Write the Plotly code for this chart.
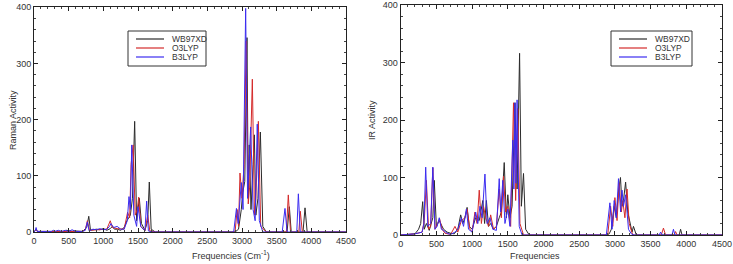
import plotly.graph_objects as go

# ---------------- Raman spectra (left) ----------------
raman_wb97xd_x = [0,30,50,200,280,300,400,450,470,550,570,700,760,790,815,850,900,950,1000,1050,1100,1130,1160,1200,1250,1300,1340,1390,1420,1452,1480,1519,1550,1600,1640,1663,1690,1750,2900,2950,2990,3010,3040,3072,3090,3105,3130,3160,3178,3200,3230,3265,3300,3350,3600,3650,3683,3710,3880,3909,3940,4500]
raman_wb97xd_y = [0,5,1,1,2,1,2,1,3,1,2,1,8,28,3,4,5,4,6,3,6,10,5,5,3,8,20,30,60,197,20,60,15,3,20,89,5,0,0,5,40,70,90,346,60,155,40,120,173,30,60,178,10,0,0,0,45,0,0,43,0,0]

raman_o3lyp_x = [0,30,50,300,350,450,500,700,740,770,800,900,1000,1050,1100,1130,1200,1300,1350,1380,1400,1430,1460,1490,1510,1540,1600,1640,1670,1750,2900,2930,2950,2971,3000,3030,3060,3090,3110,3149,3180,3200,3236,3270,3350,3600,3640,3668,3700,3820,3841,3870,4500]
raman_o3lyp_y = [0,4,1,1,2,1,2,1,4,20,3,4,5,5,20,8,6,5,35,25,120,155,30,40,62,10,2,30,2,0,0,40,10,105,60,120,340,50,80,272,30,60,197,10,0,0,0,66,0,0,37,0,0]

raman_b3lyp_x = [0,20,30,45,250,280,300,350,400,450,500,550,600,700,740,770,795,850,900,950,1000,1050,1090,1110,1150,1200,1250,1300,1345,1370,1390,1410,1440,1480,1500,1540,1600,1625,1650,1700,2880,2920,2945,2990,3015,3053,3080,3100,3125,3160,3190,3220,3250,3300,3580,3620,3650,3790,3813,3840,4500]
raman_b3lyp_y = [0,3,8,1,1,3,1,3,1,3,1,4,1,1,3,18,2,5,4,6,4,5,10,15,8,10,5,5,20,63,40,155,30,10,45,10,2,55,2,0,0,42,15,88,40,398,60,110,187,40,20,192,20,0,0,42,0,0,68,0,0]

# ---------------- IR spectra (right) ----------------
ir_wb97xd_x = [0,200,250,280,308,330,360,400,450,470,500,540,600,650,700,750,800,840,870,900,930,960,1000,1050,1100,1150,1175,1200,1230,1260,1300,1340,1380,1410,1450,1480,1500,1530,1560,1600,1630,1665,1690,1720,1750,1800,2880,2920,2950,2990,3020,3050,3078,3100,3120,3150,3180,3210,3240,3260,3300,3900,3920,3940,4500]
ir_wb97xd_y = [0,2,10,20,58,10,20,8,30,95,15,25,10,5,3,2,10,35,20,30,48,15,10,30,25,60,20,60,15,20,10,15,30,40,126,30,70,30,50,230,80,316,50,107,10,0,0,2,10,50,30,75,100,50,60,92,40,20,5,15,0,0,10,0,0]

ir_o3lyp_x = [0,200,300,330,360,390,420,450,480,520,545,580,620,700,760,800,850,900,930,970,1000,1040,1070,1100,1130,1160,1190,1230,1260,1300,1340,1380,1410,1440,1470,1500,1540,1580,1610,1640,1670,1720,2900,2940,2970,3000,3030,3060,3090,3110,3140,3170,3200,3250,3650,3680,3710,3830,3850,3870,4500]
ir_o3lyp_y = [0,2,5,25,95,10,15,117,10,20,28,10,3,1,15,5,25,30,45,10,5,40,20,78,20,50,30,15,35,10,15,80,30,102,40,50,15,230,60,220,20,0,0,50,15,65,25,90,40,60,30,80,20,0,0,12,0,0,6,0,0]

ir_b3lyp_x = [0,200,300,325,350,380,420,450,480,510,540,570,600,650,700,760,800,850,880,920,950,1000,1050,1080,1110,1140,1180,1210,1250,1290,1340,1380,1400,1430,1460,1500,1530,1570,1585,1600,1615,1630,1660,1700,2880,2930,2960,2990,3020,3050,3080,3100,3120,3150,3190,3230,3270,3620,3640,3660,3800,3820,3840,4500]
ir_b3lyp_y = [0,2,5,20,118,15,20,118,10,15,30,10,8,3,1,5,10,30,15,45,10,5,40,20,50,30,106,20,30,10,8,98,40,95,20,45,15,165,80,230,90,235,15,0,0,56,10,60,30,98,40,78,50,70,10,2,0,0,5,0,0,10,0,0]

series_names = ["WB97XD", "O3LYP", "B3LYP"]
colors = ["#2b2b2b", "#d42a2a", "#3b2cf0"]

x_ticks = [0, 500, 1000, 1500, 2000, 2500, 3000, 3500, 4000, 4500]
y_ticks = [0, 100, 200, 300, 400]

W, H = 733, 264
FONT = "Liberation Sans, Arial, sans-serif"
TXT = "#333"

fig = go.Figure()

raman = [(raman_wb97xd_x, raman_wb97xd_y), (raman_o3lyp_x, raman_o3lyp_y), (raman_b3lyp_x, raman_b3lyp_y)]
ir = [(ir_wb97xd_x, ir_wb97xd_y), (ir_o3lyp_x, ir_o3lyp_y), (ir_b3lyp_x, ir_b3lyp_y)]

for (xs, ys), name, c in zip(raman, series_names, colors):
    fig.add_trace(go.Scatter(x=xs, y=ys, mode="lines", name=name,
                             line=dict(color=c, width=1), xaxis="x", yaxis="y"))
for (xs, ys), name, c in zip(ir, series_names, colors):
    fig.add_trace(go.Scatter(x=xs, y=ys, mode="lines", name=name,
                             line=dict(color=c, width=1), xaxis="x2", yaxis="y2"))

def xax(domain, anchor):
    return dict(domain=domain, anchor=anchor, range=[0, 4500], tickvals=x_ticks,
                showgrid=False, zeroline=False, showline=True, linecolor="#222",
                linewidth=1, mirror="allticks", ticks="inside", ticklen=4,
                tickcolor="#222", tickfont=dict(size=9, color=TXT, family=FONT),
                minor=dict(ticks="inside", ticklen=2, dtick=100, tickcolor="#444"),
                automargin=False, fixedrange=True)

def yax(domain, anchor):
    return dict(domain=domain, anchor=anchor, range=[0, 400], tickvals=y_ticks,
                showgrid=False, zeroline=False, showline=True, linecolor="#222",
                linewidth=1, mirror="allticks", ticks="inside", ticklen=4,
                tickcolor="#222", tickfont=dict(size=9, color=TXT, family=FONT),
                minor=dict(ticks="inside", ticklen=2, dtick=20, tickcolor="#444"),
                automargin=False, fixedrange=True)

def px_x(v):
    return v / W

def px_y(v):
    return 1 - v / H

shapes = []
annotations = []

# Hand-drawn legends (box, line samples, labels), positioned in pixels
for (bx0, bx1, lx0, lx1, tx) in [(128, 206, 136, 164, 170), (611, 692, 619, 647, 653)]:
    shapes.append(dict(type="rect", xref="paper", yref="paper",
                       x0=px_x(bx0), x1=px_x(bx1), y0=px_y(66), y1=px_y(31),
                       line=dict(color="#333", width=1), fillcolor="white", layer="above"))
    for row_y, name, c in zip([39, 48, 57], series_names, colors):
        shapes.append(dict(type="line", xref="paper", yref="paper",
                           x0=px_x(lx0), x1=px_x(lx1), y0=px_y(row_y), y1=px_y(row_y),
                           line=dict(color=c, width=1.2), layer="above"))
        annotations.append(dict(text=name, x=px_x(tx), y=px_y(row_y), xref="paper", yref="paper",
                                xanchor="left", yanchor="middle", showarrow=False,
                                font=dict(size=8.5, color=TXT, family=FONT)))

annotations += [
    dict(text="Raman Activity", x=px_x(6), y=px_y(120), xref="paper", yref="paper",
         textangle=-90, showarrow=False, font=dict(size=9, color=TXT, family=FONT)),
    dict(text="Frequencies (Cm<sup>-1</sup>)", x=px_x(190), y=px_y(263), xref="paper", yref="paper",
         yanchor="bottom", showarrow=False, font=dict(size=9, color=TXT, family=FONT)),
    dict(text="IR Activity", x=px_x(372), y=px_y(120), xref="paper", yref="paper",
         textangle=-90, showarrow=False, font=dict(size=9, color=TXT, family=FONT)),
    dict(text="Frequencies", x=px_x(562), y=px_y(263), xref="paper", yref="paper",
         yanchor="bottom", showarrow=False, font=dict(size=9, color=TXT, family=FONT)),
]

fig.update_layout(
    width=W, height=H,
    margin=dict(l=0, r=0, t=0, b=0),
    paper_bgcolor="white", plot_bgcolor="white",
    xaxis=xax([34 / W, 346 / W], "y"),
    yaxis=yax([(H - 232) / H, (H - 7.3) / H], "x"),
    xaxis2=xax([400.7 / W, 722 / W], "y2"),
    yaxis2=yax([(H - 235) / H, (H - 5) / H], "x2"),
    showlegend=False,
    shapes=shapes,
    annotations=annotations,
)

fig.write_html("out.html", config={"displayModeBar": False},
               post_script="document.body.style.margin='0px';document.body.style.overflow='hidden';")
